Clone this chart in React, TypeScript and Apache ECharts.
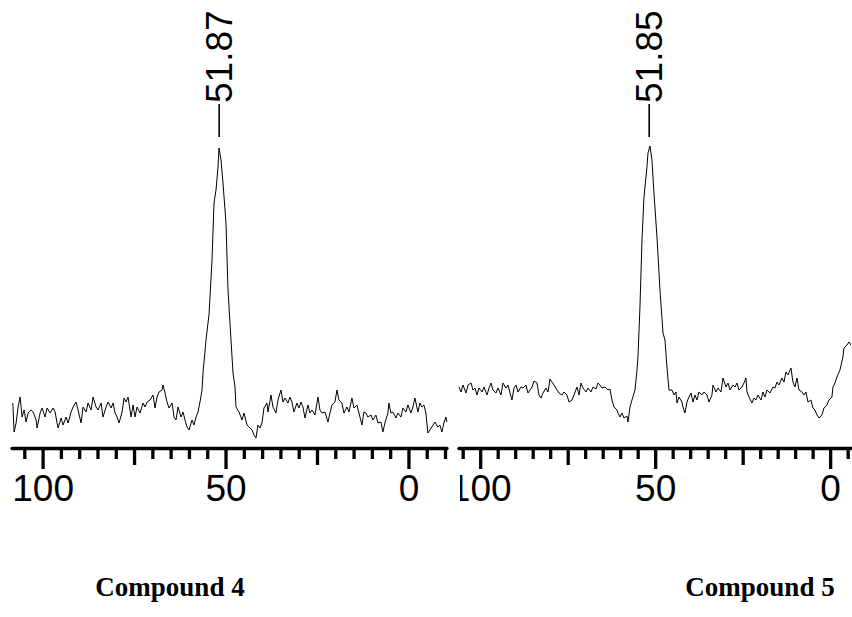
import React, { useEffect, useRef } from "react";
import * as echarts from "echarts";

// ---------- Compound 4 (left panel) ----------
const leftPpm = [
  108.28, 107.92, 107.38, 106.83, 106.29, 105.74, 105.19, 104.65, 104.1, 103.28, 102.73, 101.91, 101.64,
  100.82, 100.27, 99.45, 98.91, 98.09, 97.27, 96.72, 96.18, 95.9, 95.08, 94.54, 93.72, 93.17, 92.35, 91.81,
  90.99, 90.44, 89.62, 89.08, 88.25, 87.71, 86.89, 86.34, 85.52, 84.98, 84.16, 83.61, 82.79, 82.24, 81.42,
  80.88, 80.33, 79.79, 79.24, 78.42, 77.87, 77.33, 76.78, 75.96, 75.42, 74.87, 74.32, 73.5, 72.68, 72.14,
  71.59, 70.77, 69.95, 69.4, 68.86, 68.31, 67.49, 67.22, 66.67, 66.13, 65.58, 64.76, 64.21, 63.67, 63.12,
  62.3, 61.75, 61.21, 60.66, 60.12, 59.3, 58.75, 58.2, 57.66, 57.11, 56.56, 56.29, 55.47, 54.93, 54.65,
  53.83, 53.28, 52.74, 52.19, 51.92, 51.37, 50.83, 50.01, 49.46, 48.64, 48.09, 47.55, 47.27, 46.45, 45.63,
  45.09, 44.27, 43.72, 42.9, 42.36, 41.81, 41.27, 40.72, 40.17, 39.63, 38.81, 38.53, 37.71, 37.17, 36.35,
  35.8, 34.98, 34.43, 33.89, 33.07, 32.52, 31.98, 31.43, 30.61, 30.06, 29.52, 28.97, 28.43, 27.61, 27.06,
  26.51, 25.69, 24.87, 24.33, 23.78, 22.96, 22.14, 21.59, 21.05, 20.23, 19.68, 19.14, 18.32, 17.77, 16.95,
  16.4, 15.58, 15.04, 14.22, 13.67, 12.85, 12.31, 11.76, 11.22, 10.39, 9.85, 9.03, 8.48, 7.66, 7.12, 6.57,
  5.75, 5.48, 4.93, 4.38, 3.56, 3.02, 2.2, 1.65, 0.83, 0.28, -0.54, -1.08, -1.63, -2.45, -3.0, -3.54,
  -4.09, -4.63, -5.18, -5.73, -6.27, -7.09, -7.91, -8.46, -9.0, -9.55, -10.09, -10.37,
];
const leftIntensity = [
  45, 16, 25, 41, 51, 31, 38, 26, 35, 38, 36, 28, 20,
  35, 40, 31, 40, 35, 40, 36, 25, 20, 30, 23, 31, 25, 36, 41,
  46, 38, 25, 41, 36, 45, 38, 51, 41, 38, 45, 31, 41, 46, 40,
  45, 35, 31, 25, 36, 50, 46, 51, 31, 43, 31, 41, 35, 45, 41,
  46, 48, 53, 40, 51, 56, 58, 63, 55, 46, 40, 45, 31, 28, 41,
  31, 36, 28, 21, 18, 28, 23, 31, 36, 46, 58, 75, 108, 125, 133,
  188, 245, 258, 281, 300, 288, 265, 225, 158, 108, 75, 61, 41, 36, 28,
  35, 23, 21, 18, 13, 10, 23, 20, 25, 40, 45, 36, 53, 41, 35,
  48, 58, 46, 50, 45, 51, 46, 36, 45, 40, 46, 41, 30, 43, 35,
  38, 33, 51, 38, 35, 36, 26, 35, 43, 46, 58, 48, 45, 35, 41,
  36, 50, 40, 43, 35, 23, 36, 35, 31, 33, 28, 33, 25, 26, 16, 25,
  35, 45, 35, 36, 30, 35, 31, 40, 36, 43, 35, 41, 50, 36, 45, 41,
  43, 35, 15, 18, 21, 26, 21, 23, 16, 25, 31, 26,
];

// ---------- Compound 5 (right panel) ----------
const rightPpm = [
  106.2, 105.63, 105.06, 104.2, 103.63, 102.77, 102.2, 101.63, 101.06, 100.49, 99.63, 99.06, 98.2, 97.63,
  97.06, 96.49, 95.63, 95.06, 94.2, 93.63, 92.77, 92.2, 91.63, 91.06, 90.49, 89.91, 89.34, 88.49, 87.91,
  87.06, 86.49, 85.91, 85.34, 84.77, 83.91, 83.34, 82.77, 82.2, 81.34, 80.77, 80.2, 79.63, 79.06, 78.2,
  77.63, 76.77, 76.2, 75.34, 74.77, 73.91, 73.34, 72.49, 71.91, 71.34, 70.77, 69.91, 69.34, 68.49, 67.91,
  67.06, 66.49, 65.91, 65.34, 64.49, 63.63, 63.06, 62.49, 61.91, 61.06, 60.77, 60.2, 59.63, 59.06, 58.2,
  57.91, 57.34, 56.77, 55.91, 55.34, 55.06, 54.49, 53.91, 53.34, 52.49, 52.2, 51.63, 51.06, 50.49, 49.63,
  48.77, 47.91, 47.34, 46.77, 46.2, 45.34, 44.77, 44.2, 43.91, 43.34, 42.49, 42.2, 41.63, 41.06, 40.49,
  39.91, 39.34, 38.77, 38.2, 37.63, 36.77, 36.2, 35.34, 34.77, 33.91, 33.63, 32.77, 32.2, 31.34, 30.77,
  29.91, 29.34, 28.77, 27.91, 27.34, 26.77, 26.2, 25.34, 24.77, 24.2, 23.91, 23.34, 22.49, 21.91, 21.34,
  20.77, 19.91, 19.34, 18.77, 18.2, 17.34, 16.49, 15.91, 15.34, 14.77, 13.91, 13.34, 12.77, 12.2, 11.34,
  10.77, 10.2, 9.63, 9.06, 8.2, 7.63, 7.06, 6.49, 5.63, 5.06, 4.49, 3.91, 3.34, 2.49, 1.91, 1.06, 0.49,
  -0.37, -0.66, -1.23, -1.8, -2.66, -3.51, -3.8, -4.66, -5.23, -5.8,
];
const rightIntensity = [
  61, 56, 63, 55, 63, 65, 58, 60, 53, 60, 56, 61, 53, 60,
  65, 58, 55, 60, 53, 65, 60, 63, 55, 48, 60, 63, 56, 61, 60,
  63, 55, 58, 61, 67, 65, 53, 50, 55, 60, 56, 69, 66, 63, 58,
  55, 53, 56, 53, 46, 48, 53, 61, 53, 65, 60, 56, 60, 56, 61,
  59, 65, 63, 60, 61, 58, 59, 48, 41, 38, 35, 31, 35, 30, 32,
  26, 41, 48, 58, 78, 91, 141, 208, 251, 281, 295, 302, 288, 255, 211,
  158, 115, 108, 81, 58, 58, 53, 56, 45, 51, 46, 41, 35, 46, 51,
  55, 46, 53, 48, 56, 53, 56, 53, 46, 53, 63, 56, 60, 56, 70,
  61, 65, 58, 63, 61, 65, 58, 61, 65, 70, 56, 51, 45, 50, 48,
  53, 48, 56, 51, 58, 55, 61, 60, 66, 63, 70, 66, 76, 73, 80,
  66, 61, 70, 58, 56, 53, 56, 46, 48, 40, 38, 33, 30, 33, 40, 43, 48,
  51, 61, 65, 71, 78, 91, 100, 103, 106, 103,
];

// ---------- axes, ticks, labels ----------
const leftRange = [-10.4, 108.5];
const rightRange = [-6.1, 106.2];
const leftTicks = [-10, -5, 0, 5, 10, 15, 20, 25, 30, 35, 40, 45, 50, 55, 60, 65, 70, 75, 80, 85, 90, 95, 100, 105];
const rightTicks = [-5, 0, 5, 10, 15, 20, 25, 30, 35, 40, 45, 50, 55, 60, 65, 70, 75, 80, 85, 90, 95, 100, 105];
const tickLabels = [100, 50, 0];
const peakLabels = ["51.87", "51.85"];
const peakTop = 300;
const titles = ["Compound 4", "Compound 5"];

const zip = (xs: number[], ys: number[]) => xs.map((x, i) => [x, ys[i]]);

const SANS = '"Liberation Sans", Arial, sans-serif';
const SERIF = '"Liberation Serif", "Times New Roman", serif';

export default function App() {
  const ref = useRef<HTMLDivElement>(null);

  useEffect(() => {
    document.body.style.margin = "0";
    const chart = echarts.init(ref.current!, null, { renderer: "svg" });

    const tickSeries = (idx: number, ticks: number[]) => ({
      type: "custom",
      xAxisIndex: idx,
      yAxisIndex: idx,
      silent: true,
      clip: false,
      data: ticks.map((t) => [t, 0]),
      renderItem: (_p: any, api: any) => {
        const v = api.value(0);
        const p = api.coord([v, 0]);
        const len = v % 50 === 0 ? 21 : v % 25 === 0 ? 17 : 11;
        return {
          type: "line",
          shape: { x1: p[0], y1: p[1], x2: p[0], y2: p[1] + len },
          style: { stroke: "#000", lineWidth: 3.3 },
        };
      },
    });

    const labelSeries = (idx: number) => ({
      type: "custom",
      xAxisIndex: idx,
      yAxisIndex: idx,
      silent: true,
      clip: false,
      data: tickLabels.map((t) => [t, 0]),
      renderItem: (_p: any, api: any) => {
        const v = api.value(0);
        const p = api.coord([v, 0]);
        return {
          type: "text",
          x: p[0],
          y: p[1] + 40,
          style: {
            text: String(v),
            fontSize: 37,
            fontFamily: SANS,
            fill: "#000",
            align: "center",
            verticalAlign: "middle",
            textAlign: "center",
            textVerticalAlign: "middle",
          },
        };
      },
    });

    const peakSeries = (idx: number, label: string) => ({
      type: "custom",
      xAxisIndex: idx,
      yAxisIndex: idx,
      silent: true,
      clip: false,
      data: [[parseFloat(label), peakTop]],
      renderItem: (_p: any, api: any) => {
        const p = api.coord([api.value(0), api.value(1)]);
        return {
          type: "group",
          children: [
            {
              type: "line",
              shape: { x1: p[0], y1: p[1] - 11, x2: p[0], y2: p[1] - 44 },
              style: { stroke: "#000", lineWidth: 1.6 },
            },
            {
              type: "text",
              x: p[0],
              y: p[1] - 45,
              rotation: Math.PI / 2,
              style: {
                text: label,
                fontSize: 37,
                fontFamily: SANS,
                fill: "#000",
                align: "left",
                verticalAlign: "middle",
                textAlign: "left",
                textVerticalAlign: "middle",
              },
            },
          ],
        };
      },
    });

    const xAxis = (idx: number, range: number[]) => ({
      type: "value",
      gridIndex: idx,
      inverse: true,
      min: range[0],
      max: range[1],
      axisLine: { show: true, onZero: false, lineStyle: { color: "#000", width: 3.3 } },
      axisTick: { show: false },
      axisLabel: { show: false },
      splitLine: { show: false },
    });
    const yAxis = (idx: number) => ({
      type: "value",
      gridIndex: idx,
      min: 0,
      max: 300,
      show: false,
    });

    const lineSeries = (idx: number, data: number[][]) => ({
      type: "line",
      xAxisIndex: idx,
      yAxisIndex: idx,
      data,
      showSymbol: false,
      symbol: "none",
      silent: true,
      clip: false,
      lineStyle: { color: "#000", width: 1 },
    });

    const titleStyle = (text: string) => ({
      text,
      fontSize: 27,
      fontWeight: "bold",
      fontFamily: SERIF,
      fill: "#000",
      align: "center",
      verticalAlign: "middle",
      textAlign: "center",
      textVerticalAlign: "middle",
    });

    chart.setOption({
      animation: false,
      backgroundColor: "#fff",
      grid: [
        { left: 12, top: 148, width: 435, height: 300 },
        { left: 459, top: 148, width: 393, height: 300 },
      ],
      xAxis: [xAxis(0, leftRange), xAxis(1, rightRange)],
      yAxis: [yAxis(0), yAxis(1)],
      series: [
        lineSeries(0, zip(leftPpm, leftIntensity)),
        lineSeries(1, zip(rightPpm, rightIntensity)),
        tickSeries(0, leftTicks),
        tickSeries(1, rightTicks),
        labelSeries(0),
        labelSeries(1),
        peakSeries(0, peakLabels[0]),
        peakSeries(1, peakLabels[1]),
      ],
      graphic: [
        {
          type: "rect",
          z: 100,
          shape: { x: 448, y: 471, width: 12, height: 40 },
          style: { fill: "#fff" },
        },
        { type: "text", x: 170, y: 587, style: titleStyle(titles[0]) },
        { type: "text", x: 760, y: 587, style: titleStyle(titles[1]) },
      ],
    });

    return () => chart.dispose();
  }, []);

  return <div ref={ref} style={{ width: 852, height: 617 }} />;
}
